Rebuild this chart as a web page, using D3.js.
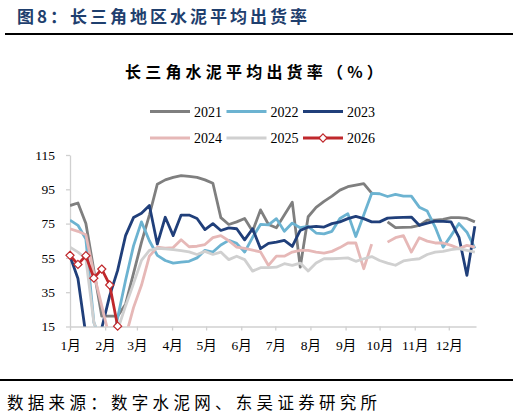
<!DOCTYPE html>
<html><head><meta charset="utf-8">
<script src="https://cdn.jsdelivr.net/npm/d3@7/dist/d3.min.js"></script>
<style>
html,body{margin:0;padding:0;background:#fff;}
svg{display:block;}
</style>
</head><body>
<script>
// ---- data ----
const seriesNames = ["2021","2022","2023","2024","2025","2026"];
const s2021 = [85.5,87,75,48,21,21,21,28,46,64,80,98,100.5,102,103,102.5,102,100.5,98.5,78.5,74.5,76,78,70.5,83,74.5,72.6,80,87.5,49.6,79,84.5,88,91,94.5,96.5,97.5,98.3,92.8,null,76,72.6,72.8,73,74,77,77,77.5,78.5,78.5,78,76];
const s2022 = [77,74,66,17.5,5,0,20,42,62,76,65,56.5,53.5,52,52.5,53,55,59.4,58.4,62.5,65.2,63.5,58.4,67,74.5,74.3,77.9,70.5,75.3,72.6,73.4,69.5,69,70.5,78,80.8,67.5,80,92.6,92.4,90.8,92,91,91,84.6,82.3,73,61.3,68,75,70,60.5];
const s2023 = [56,43,10,3,14,33,47.7,68,78.5,81,85.6,63,78.7,68,80,80,78,71.5,75,71,72.5,72,65.5,72,60.4,63.5,64.2,65.2,61.7,71,73,73.4,73,75,76,77.9,79.2,77.9,76,76,78.2,78.5,78.6,78.8,74,75.3,76.5,76.3,76,67,44.8,73.4];
const s2024 = [72,70.5,68.5,46,27,8,5,9,26,39,56,61.3,60.7,61,65.6,61.5,61.8,62.8,66.8,68,65,61.3,60.5,59.5,58.5,50.6,56,56,58.4,59.4,59.4,58.4,57.8,58.8,61,63.7,63.7,48.7,63,null,64.2,66.8,68,58.4,66.8,64.8,63.7,63.7,62.3,60.4,62.3,61.3];
const s2025 = [61.3,58.4,54.5,17.5,5,5,13,27,40,53.5,59.4,60.5,60.3,59.8,59.3,58.5,57,58.8,57,58.4,54,56,54,47.3,49.3,49.3,49.6,51.6,50.6,52,47.3,52,54.5,54.5,54.7,55,53,54.5,55.8,53.5,52,50.7,53.2,54,54.5,57,58.4,58.8,59.8,60.4,59.4,58.4];
const s2026 = [56.5,51.2,56.3,43.2,48.5,39.2,15.2];
const yTicks = [15,35,55,75,95,115];
const monthLabels = ["1月","2月","3月","4月","5月","6月","7月","8月","9月","10月","11月","12月"];
const colors = ["#7f7f7f","#6cb3d1","#203f7a","#e6b8b7","#d0d0d0","#c0282c"];

const W = 519, H = 419;
const svg = d3.select("body").append("svg").attr("width", W).attr("height", H);
svg.append("rect").attr("width", W).attr("height", H).attr("fill", "#fff");

// header
svg.append("text").attr("x", 17).attr("y", 23)
  .attr("font-family", "'Noto Sans CJK SC', sans-serif").attr("font-weight", "bold")
  .attr("font-size", 17).attr("letter-spacing", 3).attr("fill", "#1f3f6e")
  .text("图8：长三角地区水泥平均出货率");
svg.append("line").attr("x1", 5).attr("x2", 513).attr("y1", 34).attr("y2", 34)
  .attr("stroke", "#000").attr("stroke-width", 2);

svg.append("text").attr("x", 256).attr("y", 78).attr("text-anchor", "middle")
  .attr("font-family", "'Noto Sans CJK SC', sans-serif").attr("font-weight", "bold")
  .attr("font-size", 16).attr("letter-spacing", 4.2).attr("fill", "#000")
  .text("长三角水泥平均出货率（%）");

// scales
const year0 = new Date(2025, 0, 1);
const dateOf = i => d3.timeDay.offset(year0, 7 * i);
const x = d3.scaleTime().domain([year0, new Date(2025, 11, 25)]).range([70, 476]);
const y = d3.scaleLinear().domain([15, 115]).range([326.5, 155]);

// clip
svg.append("defs").append("clipPath").attr("id", "plot")
  .append("rect").attr("x", 70).attr("y", 150).attr("width", 410).attr("height", 176.5);

// axes
const monthTicks = d3.timeMonth.range(year0, new Date(2025, 11, 25));
const xAxis = d3.axisBottom(x).tickValues(monthTicks)
  .tickFormat((d, i) => monthLabels[i]).tickSize(4).tickPadding(10).tickSizeOuter(0);
const gx = svg.append("g").attr("transform", "translate(0,326.5)").call(xAxis);
const yAxis = d3.axisLeft(y).tickValues(yTicks).tickSize(4).tickPadding(11).tickSizeOuter(0);
const gy = svg.append("g").attr("transform", "translate(70,0)").call(yAxis);
[gx, gy].forEach(g => {
  g.select(".domain").attr("stroke", "#d0d0d0").attr("stroke-width", 1.3);
  g.selectAll(".tick line").attr("stroke", "#d0d0d0").attr("stroke-width", 1.3);
  g.selectAll("text").attr("font-family", "'Liberation Serif', 'Noto Sans CJK SC', serif")
    .attr("font-size", 13.5).attr("fill", "#000");
});

// lines
const all = [s2021, s2022, s2023, s2024, s2025, s2026];
const line = d3.line().defined(d => d.v != null).x(d => x(d.date)).y(d => y(d.v));
const plot = svg.append("g").attr("clip-path", "url(#plot)");
all.forEach((s, k) => {
  const pts = s.map((v, i) => ({date: dateOf(i), v}));
  plot.append("path").datum(pts).attr("d", line).attr("fill", "none")
    .attr("stroke", colors[k]).attr("stroke-width", 2.8).attr("stroke-linejoin", "round");
});
// 2026 markers (diamonds)
const sym = d3.symbol().type(d3.symbolDiamond2).size(42);
svg.append("g").selectAll("path").data(s2026.map((v, i) => ({date: dateOf(i), v})))
  .join("path").attr("d", sym)
  .attr("transform", d => `translate(${x(d.date)},${y(d.v)})`)
  .attr("fill", "#fff").attr("stroke", colors[5]).attr("stroke-width", 1.2);

// legend
const legX = [150, 226.5, 303];
const legY = [111.5, 138];
seriesNames.forEach((name, k) => {
  const lx = legX[k % 3], ly = legY[Math.floor(k / 3)];
  const g = svg.append("g");
  g.append("line").attr("x1", lx).attr("x2", lx + 40).attr("y1", ly).attr("y2", ly)
    .attr("stroke", colors[k]).attr("stroke-width", 3);
  if (k === 5) {
    g.append("path").attr("d", sym).attr("transform", `translate(${lx + 20},${ly})`)
      .attr("fill", "#fff").attr("stroke", colors[k]).attr("stroke-width", 1.2);
  }
  g.append("text").attr("x", lx + 44).attr("y", ly + 5)
    .attr("font-family", "'Liberation Serif', serif").attr("font-size", 14).attr("fill", "#000")
    .text(name);
});

// footer
svg.append("line").attr("x1", 0).attr("x2", 513).attr("y1", 380).attr("y2", 380)
  .attr("stroke", "#000").attr("stroke-width", 2);
svg.append("text").attr("x", 7).attr("y", 409)
  .attr("font-family", "'Noto Sans CJK SC', sans-serif")
  .attr("font-size", 16.5).attr("letter-spacing", 4.3).attr("fill", "#000")
  .text("数据来源：数字水泥网、东吴证券研究所");
</script>
</body></html>
